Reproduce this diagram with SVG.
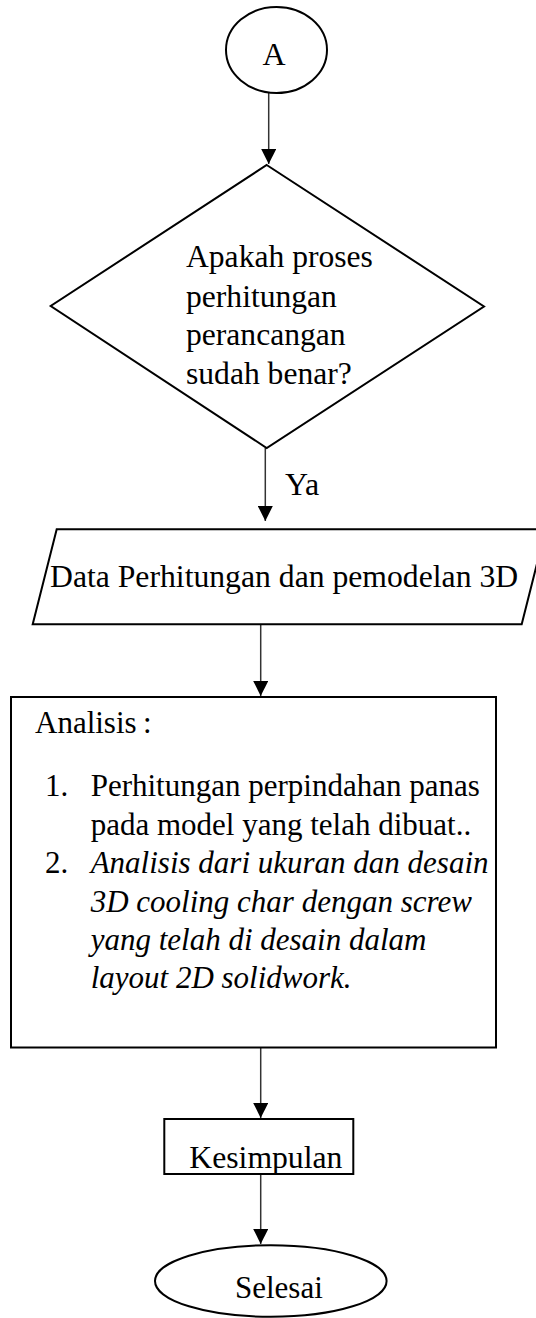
<svg xmlns="http://www.w3.org/2000/svg" width="536" height="1318" viewBox="0 0 536 1318">
<defs>
<style>
.shape{fill:#fff;stroke:#000;stroke-width:2}
.conn{stroke:#333;stroke-width:1.5;fill:none}
.t{font-family:"Liberation Serif","Times New Roman",serif;fill:#000}
.i{font-style:italic}
</style>
<marker id="arr" markerUnits="userSpaceOnUse" markerWidth="15" markerHeight="15" refX="15" refY="7.5" orient="auto">
<path d="M0,0 L15,7.5 L0,15 z" fill="#000"/>
</marker>
</defs>
<rect width="536" height="1318" fill="#fff"/>
<g id="connectors">
<line class="conn" x1="268.7" y1="93" x2="268.7" y2="164" marker-end="url(#arr)"/>
<line class="conn" x1="265.3" y1="448" x2="265.3" y2="521" marker-end="url(#arr)"/>
<text class="t" x="285" y="495" font-size="32">Ya</text>
<line class="conn" x1="260.7" y1="624" x2="260.7" y2="696" marker-end="url(#arr)"/>
<line class="conn" x1="260.7" y1="1048" x2="260.7" y2="1118" marker-end="url(#arr)"/>
<line class="conn" x1="260.7" y1="1174" x2="260.7" y2="1244" marker-end="url(#arr)"/>
</g>
<g id="nodeA">
<ellipse class="shape" cx="276.5" cy="50" rx="50.5" ry="43"/>
<text class="t" x="274" y="65" font-size="32" text-anchor="middle">A</text>
</g>
<g id="decision">
<polygon class="shape" points="266.7,165 484,306.5 266.7,448 50.7,306"/>
<text class="t" font-size="31.6">
<tspan x="186" y="267">Apakah proses</tspan>
<tspan x="186" y="306.5">perhitungan</tspan>
<tspan x="186" y="345">perancangan</tspan>
<tspan x="186" y="383.5">sudah benar?</tspan>
</text>
</g>
<g id="data">
<polygon class="shape" points="56.7,529.3 545.7,529.3 521.7,624.3 32.7,624.3"/>
<text class="t" x="50" y="587" font-size="31.7">Data Perhitungan dan pemodelan 3D</text>
</g>
<g id="analisis">
<rect class="shape" x="11" y="697" width="485" height="350.5" stroke-width="2.5"/>
<text class="t" x="35" y="733" font-size="31">Analisis<tspan x="143">:</tspan></text>
<text class="t" font-size="31">
<tspan x="45" y="796">1.</tspan>
<tspan x="90.7" y="796">Perhitungan perpindahan panas</tspan>
<tspan x="90.7" y="835">pada model yang telah dibuat..</tspan>
<tspan x="45" y="873">2.</tspan>
</text>
<text class="t i" font-size="31">
<tspan x="90.7" y="873">Analisis dari ukuran dan desain</tspan>
<tspan x="90.7" y="912">3D cooling char dengan screw</tspan>
<tspan x="90.7" y="950">yang telah di desain dalam</tspan>
<tspan x="90.7" y="988">layout 2D solidwork.</tspan>
</text>
</g>
<g id="kesimpulan">
<rect class="shape" x="164.3" y="1119" width="189" height="55"/>
<text class="t" x="189.3" y="1167.7" font-size="31.7">Kesimpulan</text>
</g>
<g id="selesai">
<ellipse class="shape" cx="270.8" cy="1281" rx="115.8" ry="35.8"/>
<text class="t" x="235" y="1298.3" font-size="31">Selesai</text>
</g>
</svg>
